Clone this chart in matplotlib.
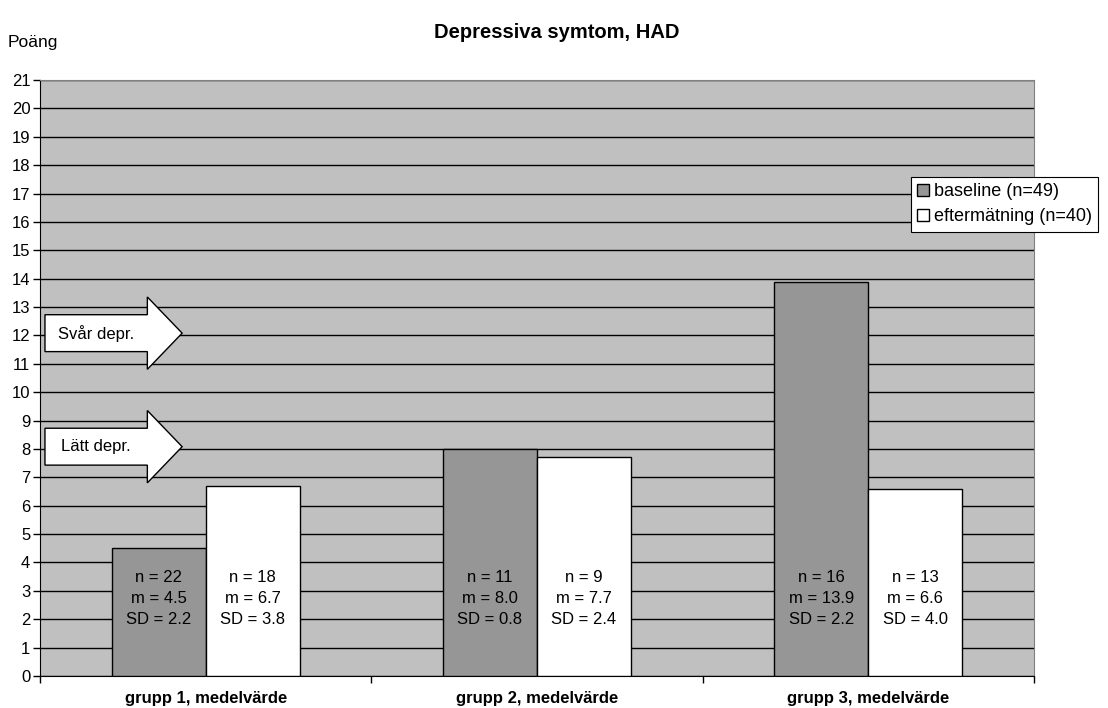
import numpy as np
import matplotlib
matplotlib.use("Agg")
import matplotlib.pyplot as plt
import matplotlib.transforms as mtransforms
from matplotlib.patches import FancyArrow, Patch

plt.rcParams["font.family"] = ["Liberation Sans", "DejaVu Sans"]

# group means, counts and SDs
groups = ["grupp 1, medelvärde", "grupp 2, medelvärde", "grupp 3, medelvärde"]
baseline_m = [4.5, 8.0, 13.9]
baseline_n = [22, 11, 16]
baseline_sd = [2.2, 0.8, 2.2]
efter_m = [6.7, 7.7, 6.6]
efter_n = [18, 9, 13]
efter_sd = [3.8, 2.4, 4.0]
series_labels = ["baseline (n=49)", "eftermätning (n=40)"]

# severity markers on the y scale
levels = ["Svår depr.", "Lätt depr."]
level_y = [12, 8]

fig = plt.figure(figsize=(11.08, 7.08), dpi=100)
ax = fig.add_axes([40 / 1108, 1 - 676 / 708, 994 / 1108, 596 / 708])
ax.set_facecolor("#c0c0c0")

x = np.arange(len(groups))
w = 0.284
ax.bar(x - w / 2, baseline_m, w, color="#969696", edgecolor="black", linewidth=1, zorder=3)
ax.bar(x + w / 2, efter_m, w, color="white", edgecolor="black", linewidth=1, zorder=3)

for i in range(len(groups)):
    ax.text(x[i] - w / 2, 2.72, f"n = {baseline_n[i]}\nm = {baseline_m[i]:.1f}\nSD = {baseline_sd[i]:.1f}",
            ha="center", va="center", fontsize=12, linespacing=1.5, zorder=4)
    ax.text(x[i] + w / 2, 2.72, f"n = {efter_n[i]}\nm = {efter_m[i]:.1f}\nSD = {efter_sd[i]:.1f}",
            ha="center", va="center", fontsize=12, linespacing=1.5, zorder=4)

ax.set_xlim(-0.5, 2.5)
ax.set_ylim(0, 21)
ax.set_yticks(range(0, 22))
ax.yaxis.grid(True, color="black", linewidth=1)
ax.set_axisbelow(True)
ax.tick_params(axis="y", direction="out", length=5, width=1, labelsize=12, pad=2)

# category separators as x ticks, labels in the middle
ax.set_xticks([-0.5, 0.5, 1.5, 2.5])
ax.set_xticklabels([])
ax.set_xticks(x, minor=True)
ax.set_xticklabels(groups, minor=True, fontweight="bold", fontsize=12)
ax.tick_params(axis="x", which="major", direction="out", length=5, width=1)
ax.tick_params(axis="x", which="minor", length=0, pad=11)

for s in ["left", "bottom"]:
    ax.spines[s].set_color("black")
for s in ["top", "right"]:
    ax.spines[s].set_color("#808080")

# arrows: x in axes fraction, y in data units
trans = mtransforms.blended_transform_factory(ax.transAxes, ax.transData)
for lab, yv in zip(levels, level_y):
    arr = FancyArrow(0.005, yv + 0.08, 0.138, 0, width=1.3, head_width=2.55,
                     head_length=0.035, length_includes_head=True,
                     facecolor="white", edgecolor="black", linewidth=1,
                     transform=trans, zorder=5)
    ax.add_patch(arr)
    ax.text(0.056, yv + 0.08, lab, transform=trans, ha="center", va="center",
            fontsize=12, zorder=6)

handles = [Patch(facecolor="#969696", edgecolor="black"),
           Patch(facecolor="white", edgecolor="black")]
leg = fig.legend(handles, series_labels, loc="upper left",
                 bbox_to_anchor=(911 / 1108, 1 - 177 / 708), fontsize=13,
                 fancybox=False, framealpha=1, edgecolor="black",
                 handlelength=0.65, handleheight=0.65, handletextpad=0.25,
                 borderpad=0.35, labelspacing=0.45, borderaxespad=0)
leg.get_frame().set_linewidth(0.8)

fig.text(557 / 1108, 1 - 33 / 708, "Depressiva symtom, HAD", ha="center", va="center",
         fontsize=14.5, fontweight="bold")
fig.text(8 / 1108, 1 - 42 / 708, "Poäng", ha="left", va="center", fontsize=12.5)

fig.savefig("out.png", dpi=100)
